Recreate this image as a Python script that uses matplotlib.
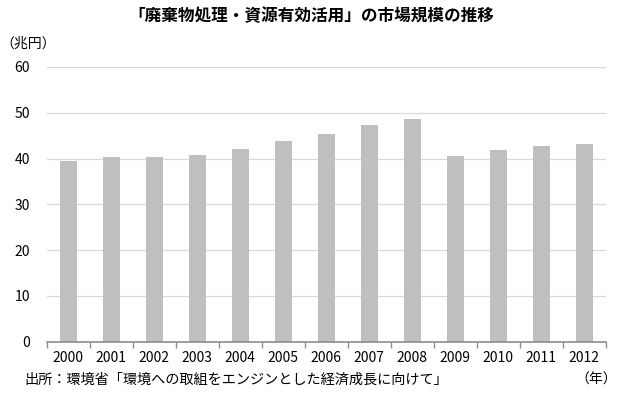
import matplotlib
matplotlib.use("Agg")
import matplotlib.pyplot as plt
import numpy as np

plt.rcParams["font.family"] = ["Noto Sans CJK JP", "DejaVu Sans"]

# market size of waste treatment / resource utilisation (trillion yen)
years = ["2000", "2001", "2002", "2003", "2004", "2005", "2006",
         "2007", "2008", "2009", "2010", "2011", "2012"]
market = [39.4, 40.3, 40.3, 40.8, 42.1, 43.8, 45.4, 47.3, 48.6, 40.5, 41.9, 42.7, 43.2]
yticks = [0, 10, 20, 30, 40, 50, 60]

title = "「廃棄物処理・資源有効活用」の市場規模の推移"
unit_label = "（兆円）"
source = "出所：環境省「環境への取組をエンジンとした経済成長に向けて」"
year_label = "（年）"

W, H = 620, 396
fig = plt.figure(figsize=(W / 100, H / 100), dpi=100)
ax = fig.add_axes([46.7 / W, 1 - 341.7 / H, (605.7 - 46.7) / W, (341.7 - 67) / H])

x = np.arange(len(years))
ax.bar(x, market, width=0.4, color="#bfbfbf", zorder=2)

ax.set_xlim(-0.5, len(years) - 0.5)
ax.set_ylim(0, 60)
ax.set_yticks(yticks)
ax.yaxis.grid(True, color="#d9d9d9", lw=0.9, zorder=0)
ax.set_axisbelow(True)

ax.set_xticks(x)
ax.set_xticklabels(years)
ax.set_xticks(np.arange(len(years) + 1) - 0.5, minor=True)
ax.tick_params(axis="x", which="major", length=0, pad=7, labelsize=10)
ax.tick_params(axis="x", which="minor", length=4, width=1, color="#8c8c8c", direction="out")
ax.tick_params(axis="y", length=0, pad=12, labelsize=10)

for s in ("top", "right", "left"):
    ax.spines[s].set_visible(False)
ax.spines["bottom"].set_color("#8c8c8c")
ax.spines["bottom"].set_linewidth(1.2)

fig.text(311 / W, 1 - 16 / H, title, ha="center", va="center", fontsize=12, fontweight="bold")
fig.text(0 / W, 1 - 44 / H, unit_label, ha="left", va="center", fontsize=10)
fig.text(24 / W, 1 - 380 / H, source, ha="left", va="center", fontsize=10.2)
fig.text(617 / W, 1 - 380 / H, year_label, ha="right", va="center", fontsize=10)

fig.savefig("out.png", dpi=100)
